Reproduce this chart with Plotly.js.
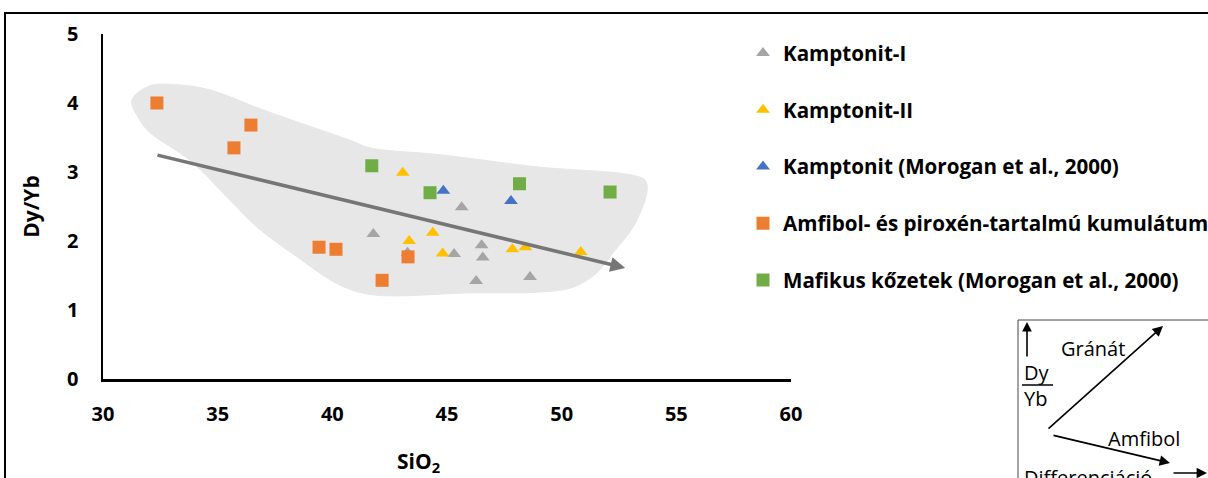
<!DOCTYPE html>
<html>
<head>
<meta charset="utf-8">
<script src="https://cdn.plot.ly/plotly-3.0.1.min.js"></script>
<style>
html,body{margin:0;padding:0;background:#fff;}
#chart{width:1208px;height:478px;}
</style>
</head>
<body>
<div id="chart"></div>
<script>
// ---- data (SiO2 wt%, Dy/Yb) ----
var seriesNames = ["Kamptonit-I", "Kamptonit-II", "Kamptonit (Morogan et al., 2000)",
                   "Amfibol- és piroxén-tartalmú kumulátum", "Mafikus kőzetek (Morogan et al., 2000)"];
var k1_x = [41.79, 45.64, 45.31, 46.51, 46.56, 46.27, 43.28, 48.62];
var k1_y = [2.10, 2.49, 1.81, 1.94, 1.76, 1.42, 1.83, 1.48];
var k2_x = [43.07, 44.38, 43.35, 44.81, 47.85, 48.42, 50.83];
var k2_y = [2.99, 2.12, 2.00, 1.82, 1.88, 1.91, 1.84];
var km_x = [44.84, 47.79];
var km_y = [2.73, 2.58];
var cum_x = [32.35, 36.45, 35.71, 39.42, 40.16, 43.30, 42.17];
var cum_y = [4.00, 3.68, 3.35, 1.91, 1.88, 1.77, 1.43];
var maf_x = [41.72, 44.26, 48.16, 52.11];
var maf_y = [3.09, 2.70, 2.83, 2.71];
// field outline (grey envelope)
var field_x = [31.26, 32.05, 33.36, 34.67, 36.98, 40.77, 41.64, 44.70, 49.06, 52.98, 53.64, 53.72, 53.11, 52.24, 51.54, 50.50, 49.06, 46.14, 41.77, 40.34, 38.46, 36.72, 35.54, 33.79, 32.05, 31.61, 31.26];
var field_y = [4.04, 4.25, 4.26, 4.19, 3.90, 3.46, 3.35, 3.25, 3.07, 2.96, 2.88, 2.71, 2.20, 1.83, 1.54, 1.33, 1.26, 1.25, 1.22, 1.36, 1.77, 2.20, 2.59, 3.17, 3.57, 3.75, 4.04];
// trend arrow
var trend_x = [32.31, 52.77];
var trend_y = [3.25, 1.61];
var xTicks = [30, 35, 40, 45, 50, 55, 60];
var yTicks = [0, 1, 2, 3, 4, 5];

var colors = ["#a5a5a5", "#ffc000", "#4472c4", "#ed7d31", "#70ad47"];
var symbols = ["triangle-up", "triangle-up", "triangle-up", "square", "square"];
var xs = [k1_x, k2_x, km_x, cum_x, maf_x];
var ys = [k1_y, k2_y, km_y, cum_y, maf_y];

var FONT = "'Open Sans', sans-serif";

var traces = [{
  x: field_x, y: field_y, mode: "lines", fill: "toself",
  fillcolor: "#e7e7e7", line: {color: "#e7e7e7", width: 1, shape: "spline", smoothing: 1.0},
  showlegend: false, hoverinfo: "skip"
}];
for (var i = 0; i < 5; i++) {
  traces.push({
    x: xs[i], y: ys[i], mode: "markers", type: "scatter", name: seriesNames[i],
    legendgroup: "g" + i,
    marker: {symbol: symbols[i], color: colors[i], size: symbols[i] === "square" ? 13 : 12, line: {width: 0}}
  });
}

// plot area pixel geometry (for inset decoration placement)
var L = 103, R = 791, T = 34, B = 379;
function px(x) { return (x - L) / (R - L); }
function py(y) { return (B - y) / (B - T); }

var shapes = [
  {type: "rect", xref: "paper", yref: "paper", x0: px(5), x1: px(1230), y0: py(13), y1: py(500),
   line: {color: "#000", width: 2}, fillcolor: "rgba(0,0,0,0)", layer: "below"},
  {type: "rect", xref: "paper", yref: "paper", x0: px(1018), x1: px(1230), y0: py(320), y1: py(500),
   line: {color: "#444", width: 1}, fillcolor: "rgba(0,0,0,0)"},
  {type: "line", xref: "paper", yref: "paper", x0: px(1022), x1: px(1053), y0: py(385), y1: py(385),
   line: {color: "#000", width: 1.5}}
];

function arrow(x0, y0, x1, y1, w, hs) {
  return {xref: "paper", yref: "paper", axref: "paper", ayref: "paper",
    x: px(x1), y: py(y1), ax: px(x0), ay: py(y0), text: "", showarrow: true,
    arrowhead: 2, arrowsize: hs || 1.3, arrowwidth: w || 1.6, arrowcolor: "#000"};
}
function label(x, y, txt, size, bold) {
  return {xref: "paper", yref: "paper", x: px(x), y: py(y), xanchor: "center", yanchor: "middle",
    text: txt, showarrow: false,
    font: {family: FONT, size: size, color: "#000", weight: bold ? "bold" : "normal"}};
}

var annotations = [
  {xref: "x", yref: "y", axref: "x", ayref: "y", x: trend_x[1], y: trend_y[1], ax: trend_x[0], ay: trend_y[0],
   text: "", showarrow: true, arrowhead: 2, arrowsize: 0.85, arrowwidth: 3.5, arrowcolor: "#767676"},
  label(418, 462, "SiO<sub>2</sub>", 21, true),
  arrow(1027, 358, 1027, 322, 1.6, 1.2),
  arrow(1047, 430, 1163, 326, 1.6, 1.3),
  arrow(1052, 435, 1170, 463, 1.6, 1.3),
  arrow(1172, 473, 1210, 473, 1.6, 1.3),
  label(1093, 348, "Gránát", 20, false),
  label(1037, 372, "Dy", 20, false),
  label(1035, 398, "Yb", 20, false),
  label(1144, 438, "Amfibol", 20, false),
  label(1088, 477, "Differenciáció", 20, false)
];

var layout = {
  width: 1208, height: 478,
  margin: {l: L, r: 1208 - R, t: T, b: 478 - B, autoexpand: false},
  paper_bgcolor: "#fff", plot_bgcolor: "#fff",
  font: {family: FONT, color: "#000"},
  xaxis: {range: [30, 60], tickvals: xTicks, showgrid: false, zeroline: false,
    showline: true, linecolor: "#000", linewidth: 2.5, ticks: "outside", ticklen: 15,
    tickcolor: "rgba(0,0,0,0)", tickfont: {family: FONT, size: 20, weight: "bold"}, fixedrange: true},
  yaxis: {range: [0, 5], tickvals: yTicks, showgrid: false, zeroline: false,
    showline: true, linecolor: "#000", linewidth: 2.5, ticks: "outside", ticklen: 18,
    tickcolor: "rgba(0,0,0,0)", tickfont: {family: FONT, size: 20, weight: "bold"},
    title: {text: "Dy/Yb", font: {family: FONT, size: 21, weight: "bold"}, standoff: 22}, fixedrange: true},
  showlegend: true,
  legend: {x: px(743), xanchor: "left", y: py(33), yanchor: "top",
    font: {family: FONT, size: 20.6, weight: "bold", color: "#000"},
    tracegroupgap: 27, maxheight: 460, bgcolor: "rgba(0,0,0,0)", itemclick: false},
  shapes: shapes,
  annotations: annotations
};

Plotly.newPlot("chart", traces, layout, {displayModeBar: false, staticPlot: true});
</script>
</body>
</html>
